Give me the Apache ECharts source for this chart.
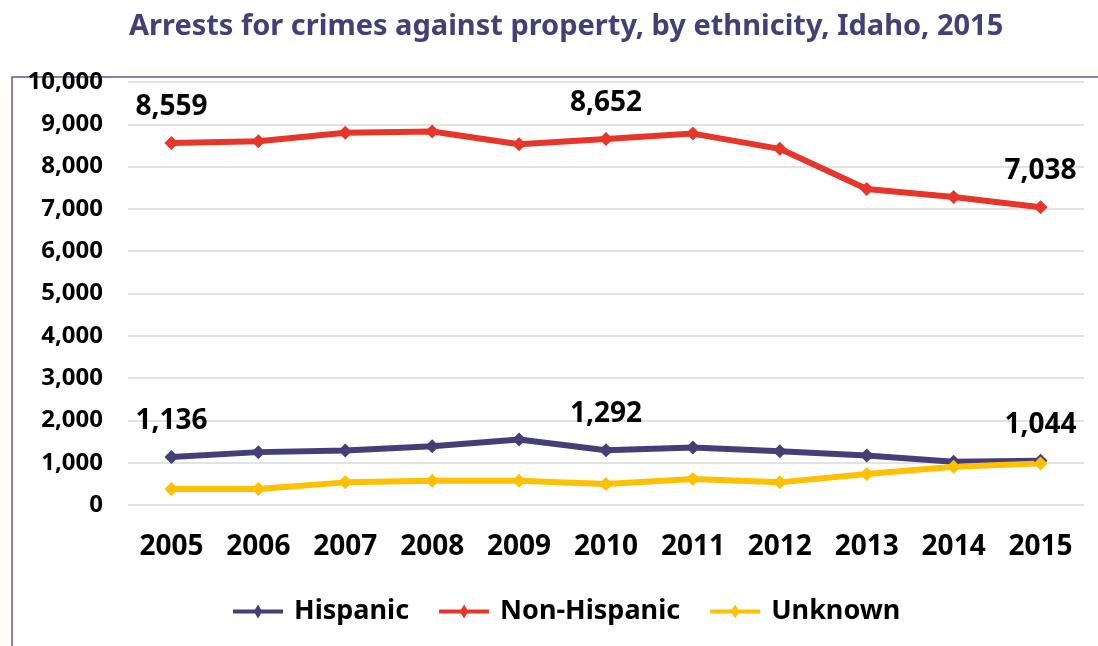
<!DOCTYPE html>
<html>
<head>
<meta charset="utf-8">
<script src="https://cdn.jsdelivr.net/npm/echarts@6/dist/echarts.min.js"></script>
<style>
html,body{margin:0;padding:0;background:#fff;}
#chart{width:1098px;height:646px;}
</style>
</head>
<body>
<div id="chart"></div>
<script>
const years = ['2005','2006','2007','2008','2009','2010','2011','2012','2013','2014','2015'];
const hispanic = [1136, 1250, 1290, 1390, 1550, 1292, 1360, 1270, 1170, 1020, 1044];
const nonHispanic = [8559, 8600, 8800, 8830, 8530, 8652, 8780, 8420, 7470, 7280, 7038];
const unknown = [380, 380, 535, 575, 575, 497, 615, 535, 733, 906, 984];
const labelYears = ['2005', '2010', '2015'];
const yTicks = {min: 0, max: 10000, interval: 1000};

const font = 'Noto Sans';
function labeled(arr, withLabels){
  return arr.map((v,i)=>({
    value: v,
    label: {show: withLabels && labelYears.indexOf(years[i]) >= 0}
  }));
}
function series(name, data, color, withLabels){
  return {
    name: name, type: 'line', data: labeled(data, withLabels),
    symbol: 'diamond', symbolSize: 14,
    lineStyle: {width: 6, color: color},
    itemStyle: {color: color},
    label: {position: 'top', distance: 15, fontFamily: font, fontWeight: 'bold', fontSize: 28, color: '#000',
      formatter: p => p.value.toLocaleString('en-US')},
    emphasis: {disabled: true},
    animation: false
  };
}
const chart = echarts.init(document.getElementById('chart'));
chart.setOption({
  animation: false,
  title: {
    text: 'Arrests for crimes against property, by ethnicity, Idaho, 2015',
    left: 124, top: 7,
    textStyle: {fontFamily: font, fontWeight: 'bold', fontSize: 29, color: '#453f78'}
  },
  graphic: [{type: 'rect', shape: {x: 12, y: 77, width: 1200, height: 700},
    style: {fill: 'none', stroke: '#5c5890', lineWidth: 1.5}, silent: true, z: -1}],
  grid: {left: 128, right: 14, top: 82, bottom: 141},
  xAxis: {
    type: 'category', data: years, boundaryGap: true,
    axisLine: {show: false}, axisTick: {show: false},
    axisLabel: {fontFamily: font, fontWeight: 'bold', fontSize: 28, color: '#000', margin: 28}
  },
  yAxis: {
    type: 'value', min: yTicks.min, max: yTicks.max, interval: yTicks.interval,
    axisLine: {show: false}, axisTick: {show: false},
    splitLine: {lineStyle: {color: '#d9d9d9', width: 1.5}},
    axisLabel: {fontFamily: font, fontWeight: 'bold', fontSize: 24, color: '#000', margin: 25,
      formatter: v => v.toLocaleString('en-US')}
  },
  legend: {
    bottom: 16, left: 228, itemWidth: 56, itemHeight: 14, itemGap: 30,
    icon: 'path://M0,5 L22,5 L25,0 L28,5 L50,5 L50,9 L28,9 L25,14 L22,9 L0,9 Z',
    textStyle: {fontFamily: font, fontWeight: 'bold', fontSize: 27, color: '#000', padding: [0, 0, 0, 3]},
    data: ['Hispanic', 'Non-Hispanic', 'Unknown']
  },
  series: [
    series('Hispanic', hispanic, '#453f78', true),
    series('Non-Hispanic', nonHispanic, '#e8352a', true),
    series('Unknown', unknown, '#ffc000', false)
  ]
});
</script>
</body>
</html>
